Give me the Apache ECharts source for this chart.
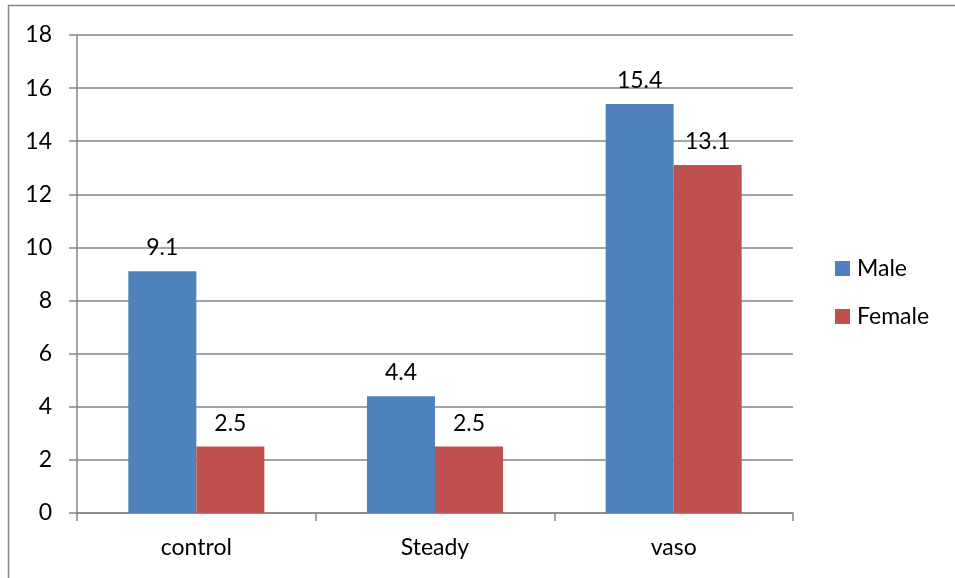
<!DOCTYPE html>
<html><head><meta charset="utf-8">
<script src="https://cdn.jsdelivr.net/npm/echarts@6/dist/echarts.min.js"></script>
<style>html,body{margin:0;padding:0;background:#fff}#c{width:955px;height:578px}</style>
</head><body><div id="c"></div>
<script>
var categories = ['control', 'Steady', 'vaso'];
var maleValues = [9.1, 4.4, 15.4];
var femaleValues = [2.5, 2.5, 13.1];
var seriesNames = ['Male', 'Female'];

var font = 'Lato, "Liberation Sans", sans-serif';
var fs = 23;
var axisColor = '#868686';
var chart = echarts.init(document.getElementById('c'), null, {renderer: 'canvas'});
chart.setOption({
  animation: false,
  textStyle: {fontFamily: font},
  graphic: [{type: 'rect', shape: {x: 8.5, y: 5.5, width: 1000, height: 1000},
    style: {fill: 'none', stroke: '#868686', lineWidth: 1.5}, silent: true}],
  grid: {left: 77, right: 162, top: 35, bottom: 65},
  legend: {
    orient: 'vertical', left: 835, top: 257, padding: 0, itemWidth: 15, itemHeight: 15, itemGap: 25,
    icon: 'rect',
    textStyle: {fontSize: fs, color: '#000', fontFamily: font, padding: [0, 0, 0, 2]},
    data: seriesNames
  },
  xAxis: {
    type: 'category', data: categories,
    axisLine: {lineStyle: {color: axisColor, width: 1.5}},
    axisTick: {show: true, length: 8, lineStyle: {color: axisColor, width: 1.5}},
    axisLabel: {fontSize: fs, color: '#000', margin: 23, fontFamily: font}
  },
  yAxis: {
    type: 'value', min: 0, max: 18, interval: 2,
    axisLine: {show: true, lineStyle: {color: axisColor, width: 1.5}},
    axisTick: {show: true, length: 8, lineStyle: {color: axisColor, width: 1.5}},
    axisLabel: {fontSize: fs, color: '#000', margin: 25, fontFamily: font},
    splitLine: {lineStyle: {color: axisColor, width: 1.5}}
  },
  series: [
    {name: seriesNames[0], type: 'bar', data: maleValues, barGap: '0%', barCategoryGap: '43%',
     itemStyle: {color: '#4F81BD'},
     label: {show: true, position: 'top', distance: 12, fontSize: fs, color: '#000', fontFamily: font}},
    {name: seriesNames[1], type: 'bar', data: femaleValues, barGap: '0%', barCategoryGap: '43%',
     itemStyle: {color: '#C0504D'},
     label: {show: true, position: 'top', distance: 12, fontSize: fs, color: '#000', fontFamily: font}}
  ]
});
</script></body></html>
